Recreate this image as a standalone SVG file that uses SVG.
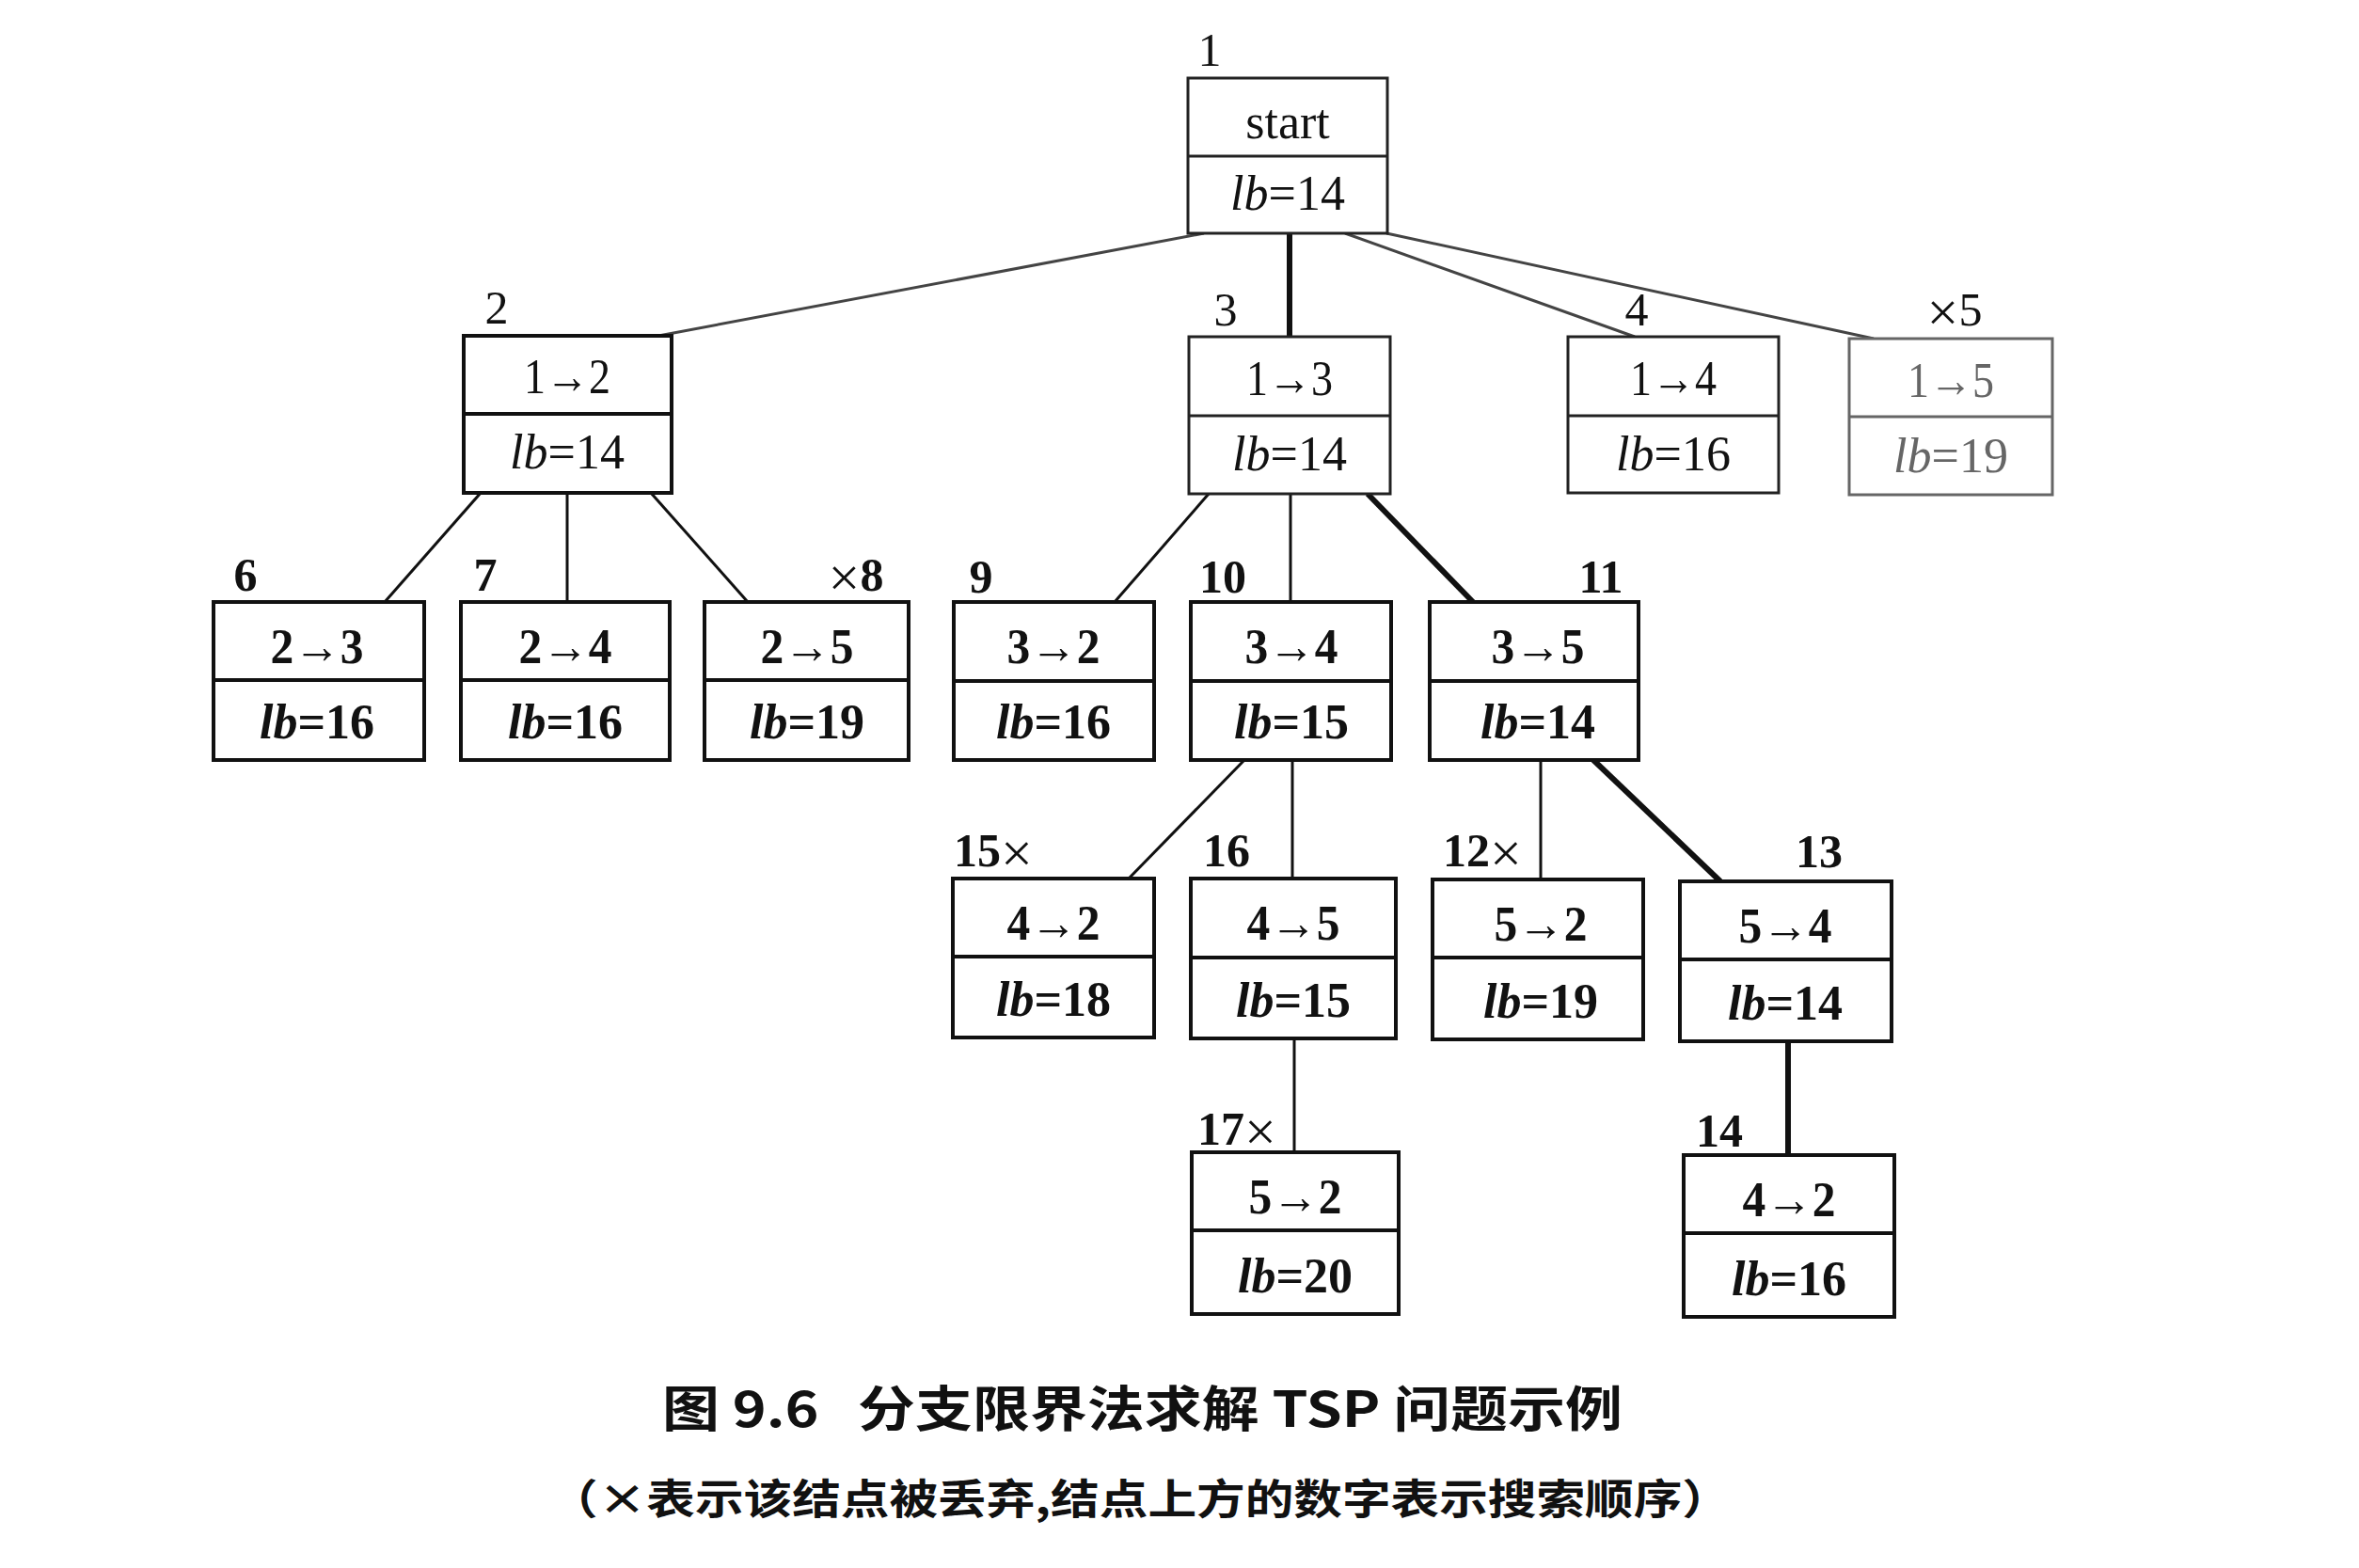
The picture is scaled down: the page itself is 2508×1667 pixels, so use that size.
<svg xmlns="http://www.w3.org/2000/svg" width="2508" height="1667" viewBox="0 0 2508 1667">
<style>
.box{fill:#fff;stroke:#111;stroke-width:4}
.boxl{fill:#fff;stroke:#222;stroke-width:3}
.gray{fill:#fff;stroke:#666;stroke-width:3}
.div{stroke:#111;stroke-width:4}
.divl{stroke:#222;stroke-width:3}
.divg{stroke:#666;stroke-width:3}
.t{font-family:"Liberation Serif","Times New Roman",serif;font-size:52px;fill:#111;text-anchor:middle}
.b{font-weight:bold}
.g{fill:#666}
.it{font-style:italic}
.x{font-size:60px;font-weight:normal}
.lab{font-family:"Liberation Serif","Times New Roman",serif;font-size:50px;fill:#111;text-anchor:middle}
.thin{stroke:#111;stroke-width:3;fill:none}
.thinl{stroke:#444;stroke-width:3;fill:none}
.thick{stroke:#111;stroke-width:6;fill:none}
.cap{font-family:"Noto Sans CJK SC","Noto Sans CJK JP",sans-serif;font-weight:bold;fill:#111;white-space:pre}
</style>
<g id="connectors">
<line class="thinl" x1="1280" y1="248" x2="700" y2="357"/>
<line class="thick" x1="1371" y1="248" x2="1371" y2="358"/>
<line class="thinl" x1="1430" y1="248" x2="1738" y2="358"/>
<line class="thinl" x1="1474" y1="248" x2="1992" y2="360"/>
<line class="thin" x1="511" y1="524" x2="409" y2="640"/>
<line class="thin" x1="603" y1="524" x2="603" y2="640"/>
<line class="thin" x1="692" y1="524" x2="795" y2="640"/>
<line class="thin" x1="1285" y1="525" x2="1185" y2="640"/>
<line class="thin" x1="1372" y1="525" x2="1372" y2="640"/>
<line class="thick" x1="1454" y1="525" x2="1566" y2="640"/>
<line class="thin" x1="1323" y1="808" x2="1200" y2="934"/>
<line class="thin" x1="1374" y1="808" x2="1374" y2="934"/>
<line class="thin" x1="1638" y1="808" x2="1638" y2="935"/>
<line class="thick" x1="1694" y1="808" x2="1829" y2="937"/>
<line class="thin" x1="1376" y1="1104" x2="1376" y2="1225"/>
<line class="thick" x1="1901" y1="1107" x2="1901" y2="1228"/>
</g>
<g id="n1">
<rect class="boxl" x="1263" y="83" width="212" height="165"/>
<line class="divl" x1="1263" y1="166" x2="1475" y2="166"/>
<text class="lab" x="1286" y="70">1</text>
<text class="t" x="1369" y="147">start</text>
<text class="t" x="1369" y="223"><tspan class="it">lb</tspan>=14</text>
</g>
<g id="n2">
<rect class="box" x="493" y="357" width="221" height="167"/>
<line class="div" x1="493" y1="440" x2="714" y2="440"/>
<text class="lab" x="528" y="344">2</text>
<text class="t" x="603" y="418" textLength="92" lengthAdjust="spacingAndGlyphs">1→2</text>
<text class="t" x="603" y="498"><tspan class="it">lb</tspan>=14</text>
</g>
<g id="n3">
<rect class="boxl" x="1264" y="358" width="214" height="167"/>
<line class="divl" x1="1264" y1="442" x2="1478" y2="442"/>
<text class="lab" x="1303" y="346">3</text>
<text class="t" x="1371" y="420" textLength="92" lengthAdjust="spacingAndGlyphs">1→3</text>
<text class="t" x="1371" y="500"><tspan class="it">lb</tspan>=14</text>
</g>
<g id="n4">
<rect class="boxl" x="1667" y="358" width="224" height="166"/>
<line class="divl" x1="1667" y1="442" x2="1891" y2="442"/>
<text class="lab" x="1740" y="346">4</text>
<text class="t" x="1779" y="420" textLength="92" lengthAdjust="spacingAndGlyphs">1→4</text>
<text class="t" x="1779" y="500"><tspan class="it">lb</tspan>=16</text>
</g>
<g id="n5">
<rect class="gray" x="1966" y="360" width="216" height="166"/>
<line class="divg" x1="1966" y1="443" x2="2182" y2="443"/>
<text class="lab g" x="2078" y="346"><tspan class="x" dy="6">×</tspan><tspan dy="-6">5</tspan></text>
<text class="t g" x="2074" y="422" textLength="92" lengthAdjust="spacingAndGlyphs">1→5</text>
<text class="t g" x="2074" y="502"><tspan class="it">lb</tspan>=19</text>
</g>
<g id="n6">
<rect class="box" x="227" y="640" width="224" height="168"/>
<line class="div" x1="227" y1="723" x2="451" y2="723"/>
<text class="lab b" x="261" y="628">6</text>
<text class="t b" x="337" y="705" textLength="99" lengthAdjust="spacingAndGlyphs">2→3</text>
<text class="t b" x="337" y="785"><tspan class="it">lb</tspan>=16</text>
</g>
<g id="n7">
<rect class="box" x="490" y="640" width="222" height="168"/>
<line class="div" x1="490" y1="723" x2="712" y2="723"/>
<text class="lab b" x="516" y="628">7</text>
<text class="t b" x="601" y="705" textLength="99" lengthAdjust="spacingAndGlyphs">2→4</text>
<text class="t b" x="601" y="785"><tspan class="it">lb</tspan>=16</text>
</g>
<g id="n8">
<rect class="box" x="749" y="640" width="217" height="168"/>
<line class="div" x1="749" y1="723" x2="966" y2="723"/>
<text class="lab b" x="910" y="628"><tspan class="x" dy="6">×</tspan><tspan dy="-6">8</tspan></text>
<text class="t b" x="858" y="705" textLength="99" lengthAdjust="spacingAndGlyphs">2→5</text>
<text class="t b" x="858" y="785"><tspan class="it">lb</tspan>=19</text>
</g>
<g id="n9">
<rect class="box" x="1014" y="640" width="213" height="168"/>
<line class="div" x1="1014" y1="724" x2="1227" y2="724"/>
<text class="lab b" x="1043" y="630">9</text>
<text class="t b" x="1120" y="705" textLength="99" lengthAdjust="spacingAndGlyphs">3→2</text>
<text class="t b" x="1120" y="785"><tspan class="it">lb</tspan>=16</text>
</g>
<g id="n10">
<rect class="box" x="1266" y="640" width="213" height="168"/>
<line class="div" x1="1266" y1="724" x2="1479" y2="724"/>
<text class="lab b" x="1300" y="630">10</text>
<text class="t b" x="1373" y="705" textLength="99" lengthAdjust="spacingAndGlyphs">3→4</text>
<text class="t b" x="1373" y="785"><tspan class="it">lb</tspan>=15</text>
</g>
<g id="n11">
<rect class="box" x="1520" y="640" width="222" height="168"/>
<line class="div" x1="1520" y1="724" x2="1742" y2="724"/>
<text class="lab b" x="1702" y="630">11</text>
<text class="t b" x="1635" y="705" textLength="99" lengthAdjust="spacingAndGlyphs">3→5</text>
<text class="t b" x="1635" y="785"><tspan class="it">lb</tspan>=14</text>
</g>
<g id="n15">
<rect class="box" x="1013" y="934" width="214" height="169"/>
<line class="div" x1="1013" y1="1017" x2="1227" y2="1017"/>
<text class="lab b" x="1056" y="921">15<tspan class="x" dy="6">×</tspan></text>
<text class="t b" x="1120" y="999" textLength="99" lengthAdjust="spacingAndGlyphs">4→2</text>
<text class="t b" x="1120" y="1080"><tspan class="it">lb</tspan>=18</text>
</g>
<g id="n16">
<rect class="box" x="1266" y="934" width="218" height="170"/>
<line class="div" x1="1266" y1="1018" x2="1484" y2="1018"/>
<text class="lab b" x="1304" y="921">16</text>
<text class="t b" x="1375" y="999" textLength="99" lengthAdjust="spacingAndGlyphs">4→5</text>
<text class="t b" x="1375" y="1081"><tspan class="it">lb</tspan>=15</text>
</g>
<g id="n12">
<rect class="box" x="1523" y="935" width="224" height="170"/>
<line class="div" x1="1523" y1="1018" x2="1747" y2="1018"/>
<text class="lab b" x="1576" y="921">12<tspan class="x" dy="6">×</tspan></text>
<text class="t b" x="1638" y="1000" textLength="99" lengthAdjust="spacingAndGlyphs">5→2</text>
<text class="t b" x="1638" y="1082"><tspan class="it">lb</tspan>=19</text>
</g>
<g id="n13">
<rect class="box" x="1786" y="937" width="225" height="170"/>
<line class="div" x1="1786" y1="1020" x2="2011" y2="1020"/>
<text class="lab b" x="1934" y="922">13</text>
<text class="t b" x="1898" y="1002" textLength="99" lengthAdjust="spacingAndGlyphs">5→4</text>
<text class="t b" x="1898" y="1084"><tspan class="it">lb</tspan>=14</text>
</g>
<g id="n17">
<rect class="box" x="1267" y="1225" width="220" height="172"/>
<line class="div" x1="1267" y1="1308" x2="1487" y2="1308"/>
<text class="lab b" x="1315" y="1217">17<tspan class="x" dy="6">×</tspan></text>
<text class="t b" x="1377" y="1290" textLength="99" lengthAdjust="spacingAndGlyphs">5→2</text>
<text class="t b" x="1377" y="1374"><tspan class="it">lb</tspan>=20</text>
</g>
<g id="n14">
<rect class="box" x="1790" y="1228" width="224" height="172"/>
<line class="div" x1="1790" y1="1311" x2="2014" y2="1311"/>
<text class="lab b" x="1828" y="1219">14</text>
<text class="t b" x="1902" y="1293" textLength="99" lengthAdjust="spacingAndGlyphs">4→2</text>
<text class="t b" x="1902" y="1377"><tspan class="it">lb</tspan>=16</text>
</g>
<g id="captions">
<text class="cap" x="704" y="1517" font-size="52" textLength="1021" lengthAdjust="spacingAndGlyphs">图 9.6   分支限界法求解 TSP 问题示例</text>
<text class="cap" x="584" y="1610" font-size="44" textLength="1256" lengthAdjust="spacingAndGlyphs">（×表示该结点被丢弃,结点上方的数字表示搜索顺序）</text>
</g>
</svg>
